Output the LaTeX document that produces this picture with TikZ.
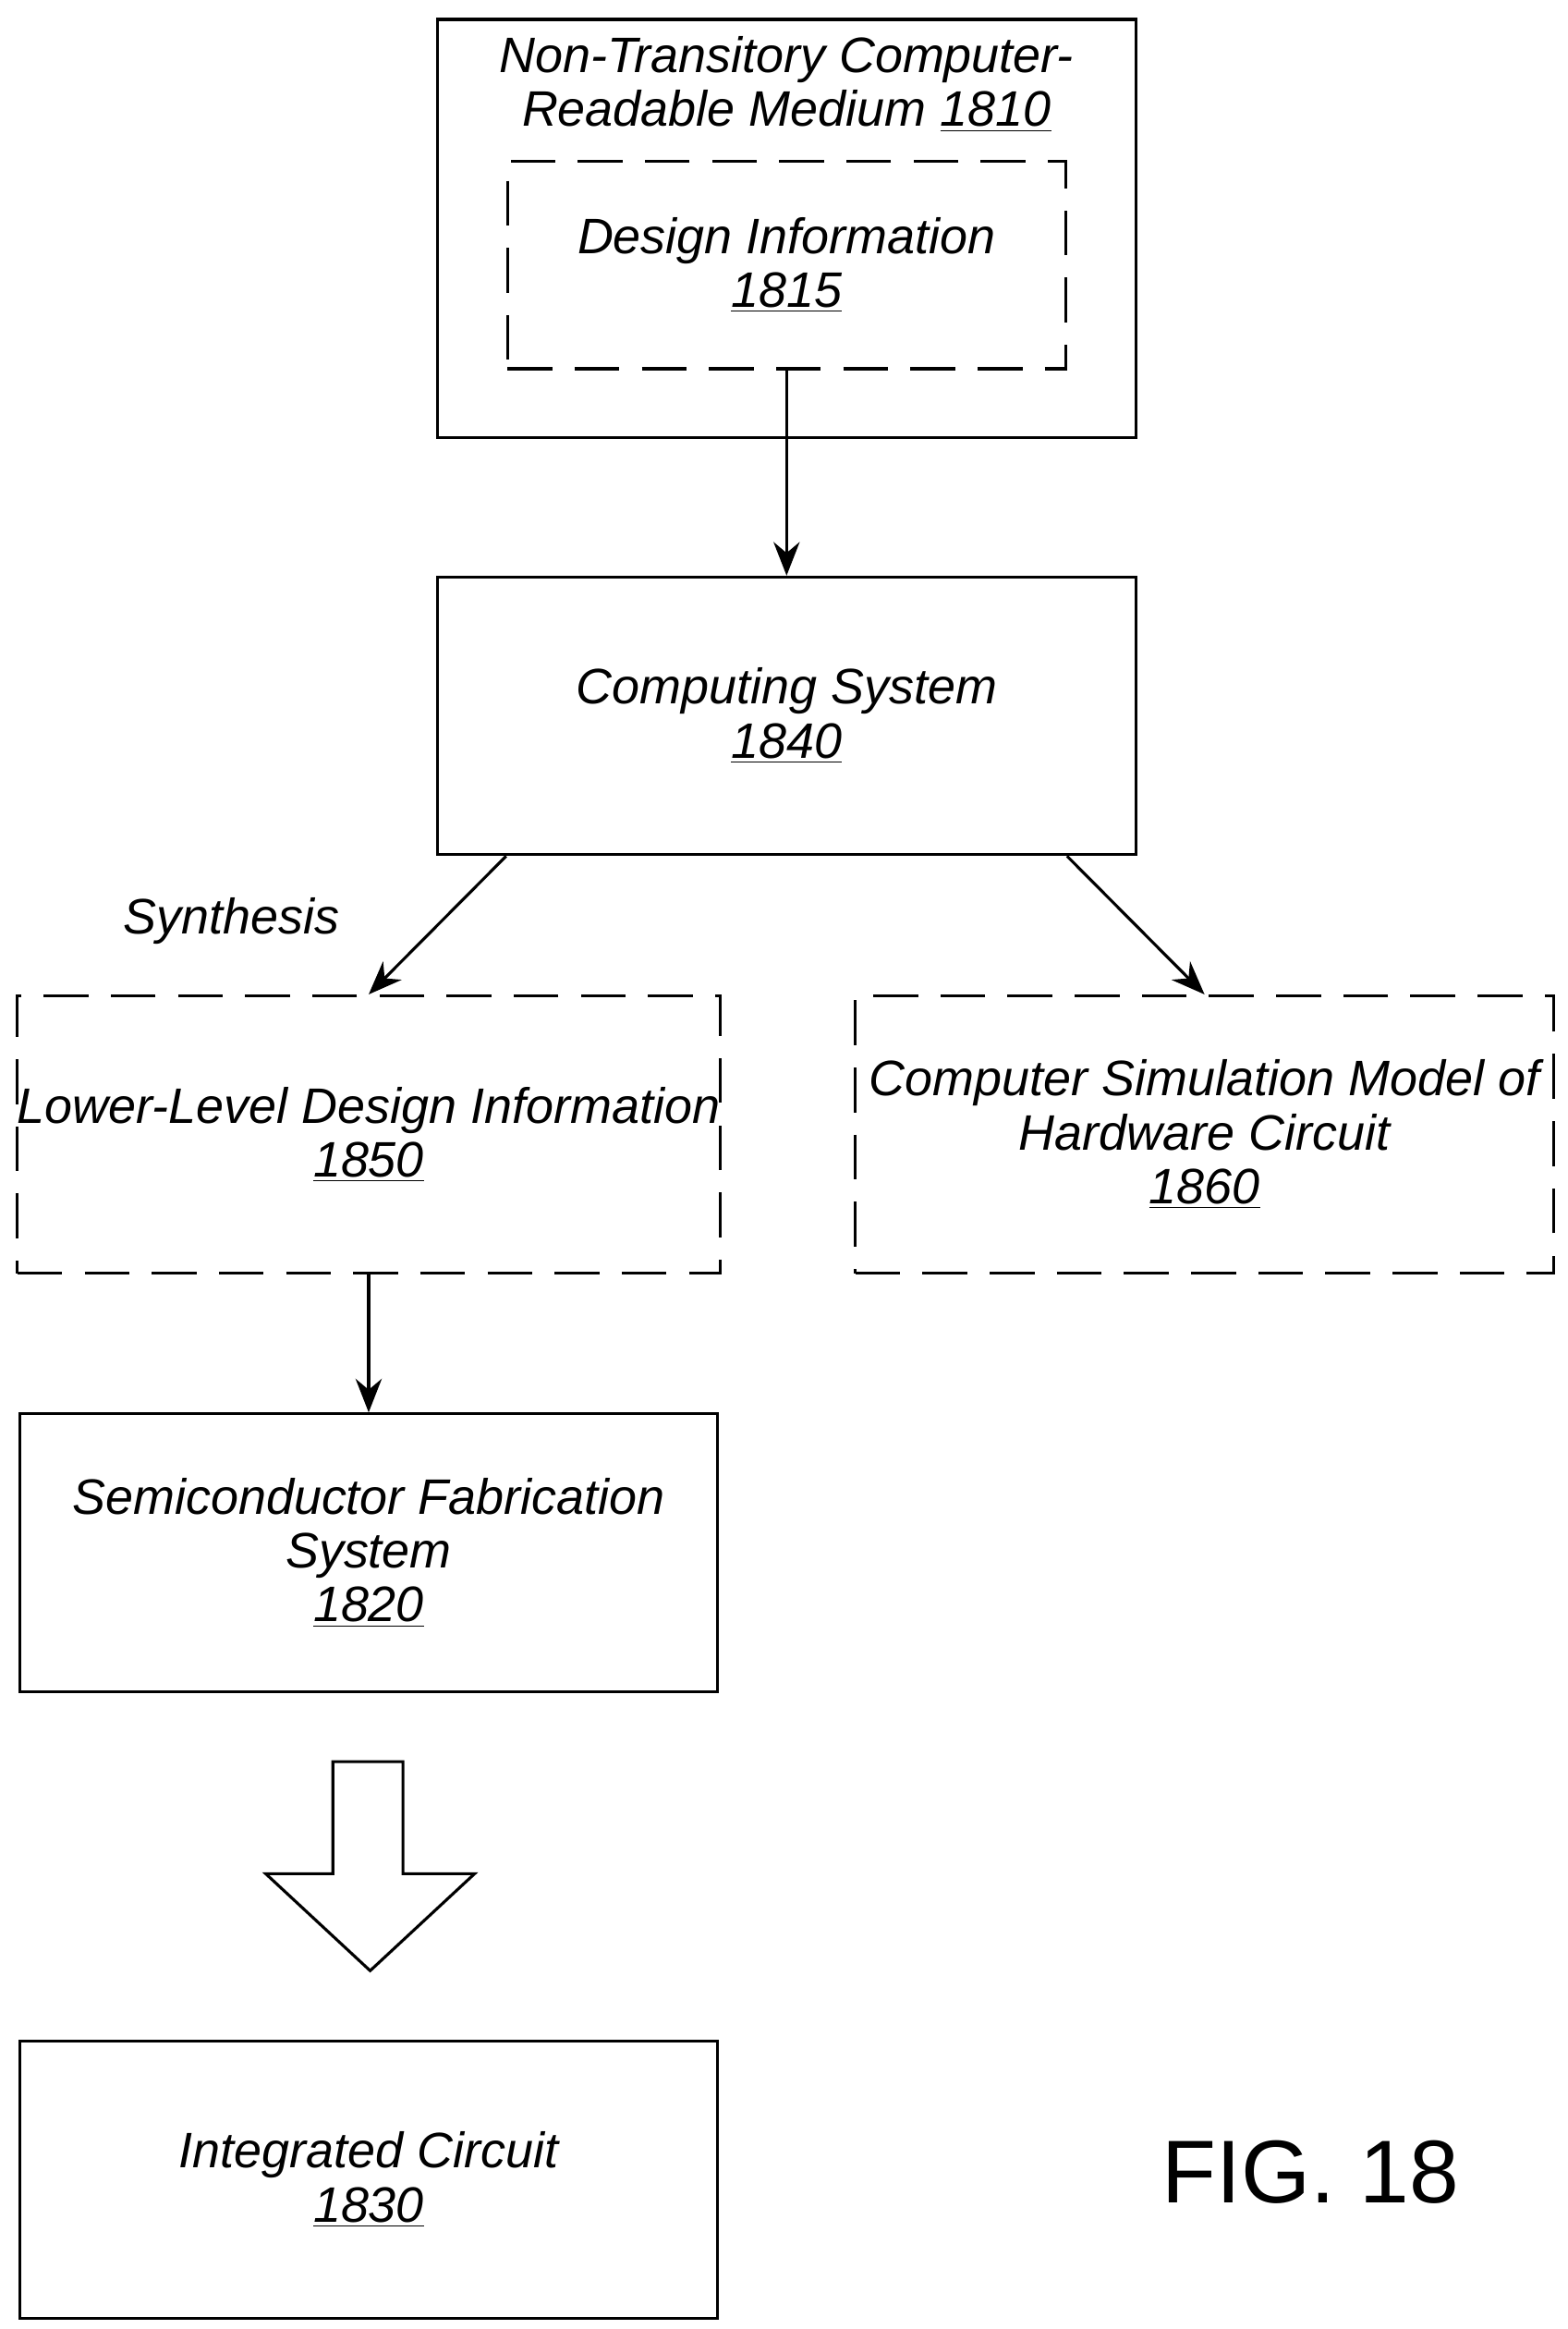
\documentclass[tikz,border=0pt]{standalone}
\usepackage{fontspec}
\setmainfont{Liberation Sans}
\usetikzlibrary{arrows.meta,positioning}
\tikzset{
  box/.style={draw, line width=1.1pt, minimum width=9.36cm, minimum height=3.72cm,
    align=center, font=\fontsize{19}{20.5}\selectfont\itshape, inner sep=0pt},
  dbox/.style={box, dash pattern=on 0.6cm off 0.3cm},
  txt/.style={align=center, font=\fontsize{19}{20.5}\selectfont\itshape, inner sep=0pt},
  link/.style={line width=1.1pt, -{Stealth[length=0.45cm, width=0.35cm]}}
}
\begin{document}
\begin{tikzpicture}[x=0.02cm, y=-0.02cm]
\useasboundingbox (0,0) rectangle (1050,1560);

% top medium with design information
\node[box, minimum height=5.6cm] (medium) at (527,153) {};
\node[txt, anchor=north] (mediumlbl) at (527,24) {Non-Transitory Computer-\\Readable Medium \underline{1810}};
\node[dbox, minimum width=7.48cm, minimum height=2.78cm] (design) at (527,177.5) {Design Information\\\underline{1815}};

% computing system
\node[box] (comp) at (527,479.5) {Computing System\\\underline{1840}};

% outputs
\node[dbox] (lower) at (247,760) {Lower-Level Design Information\\\underline{1850}};
\node[dbox] (model) at (807,760) {Computer Simulation Model of\\Hardware Circuit\\\underline{1860}};
\node[txt] (synth) at (155,617) {Synthesis};

% fabrication and result
\node[box] (fab) at (247,1040) {Semiconductor Fabrication\\System\\\underline{1820}};
\node[box] (ic) at (247,1460) {Integrated Circuit\\\underline{1830}};
\node[font=\fontsize{34}{36}\selectfont, inner sep=0pt] (fig) at (878,1455) {FIG. 18};

% connectors
\draw[link] (design.south) -- (comp.north);
\draw[link] (comp.south west) ++(47,0) coordinate (c1) -- (lower.north);
\draw[link] (comp.south east) ++(-47,0) coordinate (c2) -- (model.north);
\draw[link] (lower.south) -- (fab.north);

% hollow arrow
\draw[line width=1.1pt, line join=miter] (223,1180) -- (270,1180) -- (270,1255) -- (318,1255)
  -- (248,1320) -- (178,1255) -- (223,1255) -- cycle;
\end{tikzpicture}
\end{document}
